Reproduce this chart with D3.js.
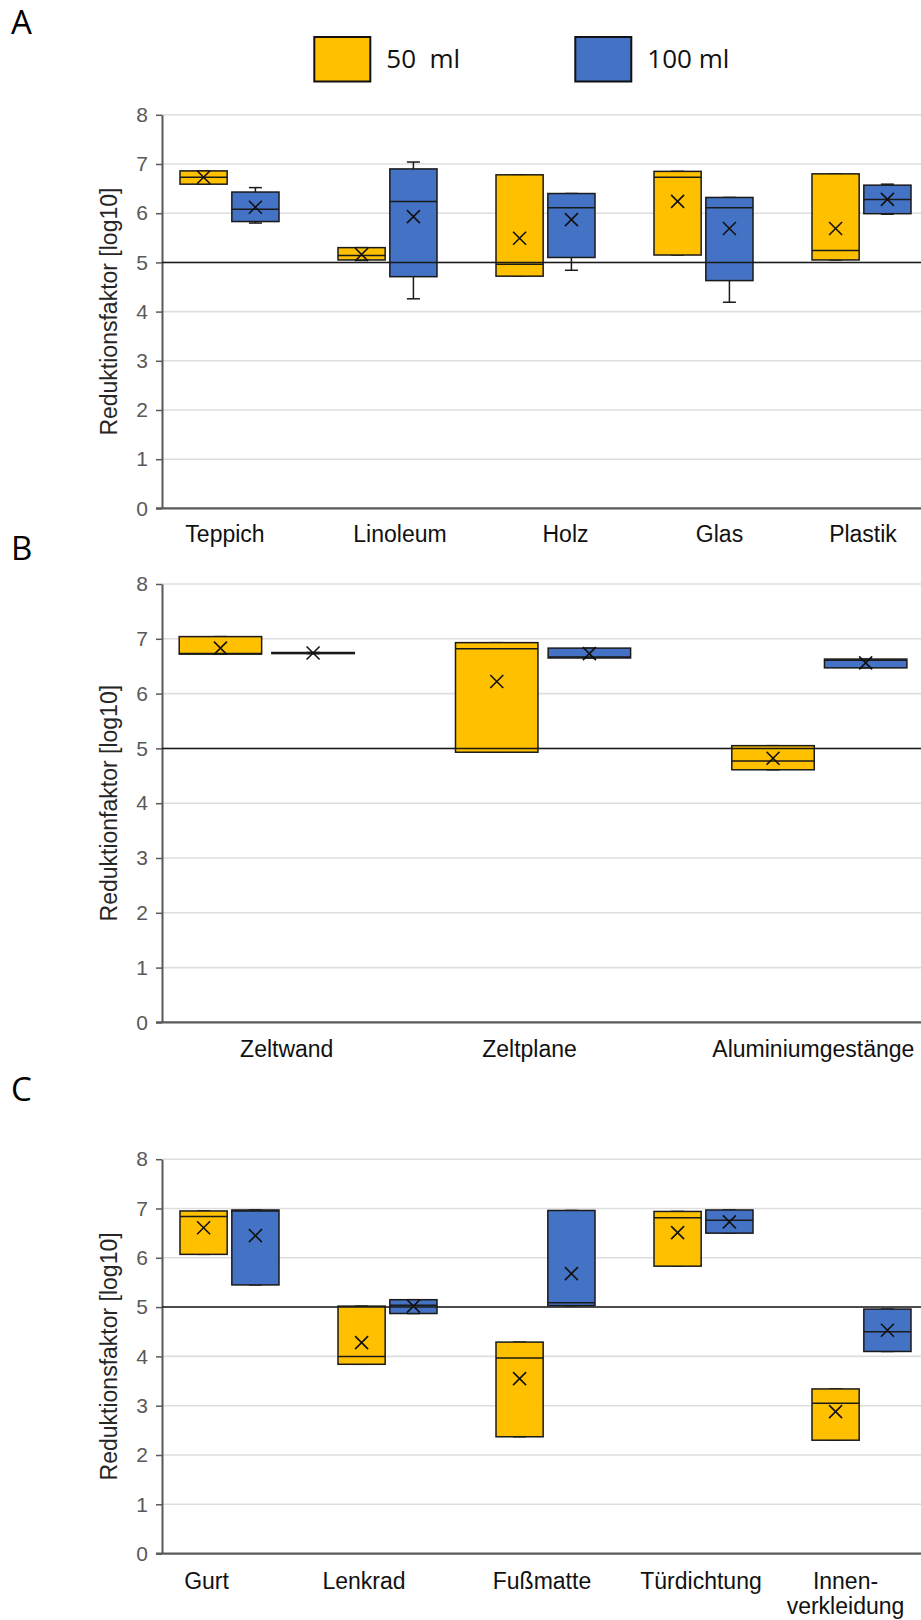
<!DOCTYPE html>
<html>
<head>
<meta charset="utf-8">
<script src="https://cdn.jsdelivr.net/npm/d3@7"></script>
<style>
  body { margin: 0; background: #fff; }
  svg { display: block; }
</style>
</head>
<body>
<svg width="921" height="1620"></svg>
<script>
// series
var seriesNames = ['50  ml', '100 ml'];
var yTicks = [0, 1, 2, 3, 4, 5, 6, 7, 8];

// each box: [min, q1, median, q3, max, mean]
var catsA = ['Teppich', 'Linoleum', 'Holz', 'Glas', 'Plastik'];
var boxesA50 = [
    [6.59, 6.59, 6.73, 6.86, 6.86, 6.73],
    [5.04, 5.05, 5.14, 5.30, 5.30, 5.16],
    [4.72, 4.72, 4.96, 6.78, 6.78, 5.49],
    [5.15, 5.15, 6.73, 6.85, 6.85, 6.24],
    [5.05, 5.05, 5.24, 6.80, 6.80, 5.69]
];
var boxesA100 = [
    [5.80, 5.83, 6.08, 6.43, 6.52, 6.12],
    [4.26, 4.71, 6.24, 6.90, 7.04, 5.93],
    [4.84, 5.10, 6.11, 6.40, 6.40, 5.87],
    [4.19, 4.63, 6.11, 6.32, 6.32, 5.69],
    [5.98, 5.99, 6.28, 6.57, 6.59, 6.28]
];

var catsB = ['Zeltwand', 'Zeltplane', 'Aluminiumgestänge'];
var boxesB50 = [
    [6.72, 6.72, 6.73, 7.04, 7.04, 6.83],
    [4.93, 4.93, 6.82, 6.93, 6.93, 6.22],
    [4.61, 4.61, 4.77, 5.05, 5.05, 4.82]
];
var boxesB100 = [
    [6.73, 6.73, 6.74, 6.75, 6.75, 6.74],
    [6.65, 6.65, 6.67, 6.83, 6.83, 6.73],
    [6.47, 6.47, 6.61, 6.63, 6.63, 6.56]
];

var catsC = ['Gurt', 'Lenkrad', 'Fußmatte', 'Türdichtung', 'Innen-\nverkleidung'];
var boxesC50 = [
    [6.07, 6.07, 6.84, 6.95, 6.95, 6.61],
    [3.84, 3.84, 4.00, 5.02, 5.02, 4.28],
    [2.37, 2.37, 3.97, 4.29, 4.29, 3.55],
    [5.83, 5.83, 6.81, 6.94, 6.94, 6.51],
    [2.30, 2.30, 3.05, 3.34, 3.34, 2.88]
];
var boxesC100 = [
    [5.45, 5.45, 6.95, 6.97, 6.97, 6.45],
    [4.87, 4.87, 5.04, 5.15, 5.15, 5.02],
    [5.03, 5.03, 5.09, 6.96, 6.96, 5.68],
    [6.50, 6.50, 6.76, 6.97, 6.97, 6.73],
    [4.10, 4.10, 4.50, 4.96, 4.96, 4.53]
];

var colors = ['#FFC000', '#4472C4'];
var axisX = 162;
var W = 921;

// layout of the three panels
var panels = [
    {letter: 'A', letterY: 34, cats: catsA, data: [boxesA50, boxesA100],
     y8: 114.8, y0: 508.4, xRange: [150.5, 940.5], inner: [29.5, 128.5], pad: 0.09,
     labelY: 541.7, shift: [-4.5, 12.5, 20, 16, 1.5], title: 'Reduktionsfaktor [log10]'},
    {letter: 'B', letterY: 560, cats: catsB, data: [boxesB50, boxesB100],
     y8: 584, y0: 1022.4, xRange: [128.6, 957.5], inner: [50.6, 225.7], pad: 0.11,
     labelY: 1056.7, shift: [20, -13.5, -6], title: 'Reduktionfaktor [log10]'},
    {letter: 'C', letterY: 1101, cats: catsC, data: [boxesC50, boxesC100],
     y8: 1159.2, y0: 1553.6, xRange: [150.5, 940.5], inner: [29.5, 128.5], pad: 0.09,
     labelY: 1589, shift: [-23, -23.5, -3.5, -2.5, -16], title: 'Reduktionsfaktor [log10]'}
];

var svg = d3.select('svg');

// legend
var leg = svg.append('g');
var legX = [314.3, 575.3];
seriesNames.forEach(function(s, i) {
    leg.append('rect')
        .attr('x', legX[i]).attr('y', 37)
        .attr('width', 56).attr('height', 44.5)
        .attr('fill', colors[i])
        .attr('stroke', '#111').attr('stroke-width', 2);
    leg.append('text')
        .attr('x', legX[i] + 72).attr('y', 67.7)
        .attr('font-family', 'Open Sans, sans-serif')
        .attr('font-size', 26)
        .attr('fill', '#111')
        .style('white-space', 'pre')
        .text(s);
});

panels.forEach(drawPanel);

function drawPanel(p) {
    var g = svg.append('g');

    var y = d3.scaleLinear().domain([0, 8]).range([p.y0, p.y8]);
    var x = d3.scaleBand().domain(p.cats).range(p.xRange);
    var xs = d3.scaleBand().domain(seriesNames).range(p.inner).paddingInner(p.pad);
    var bw = xs.bandwidth();

    // letter
    g.append('text')
        .attr('x', 11).attr('y', p.letterY)
        .attr('font-family', 'Open Sans, sans-serif')
        .attr('font-size', 33)
        .attr('fill', '#000')
        .text(p.letter);

    // gridlines
    g.selectAll('line.grid')
        .data(yTicks.filter(function(t) { return t > 0; }))
        .enter()
        .append('line')
        .attr('class', 'grid')
        .attr('x1', axisX).attr('x2', W)
        .attr('y1', function(d) { return y(d); })
        .attr('y2', function(d) { return y(d); })
        .attr('stroke', '#dedede')
        .attr('stroke-width', 1.6);

    // y axis
    var ax = g.append('g')
        .attr('transform', 'translate(' + axisX + ',0)')
        .call(d3.axisLeft(y).tickValues(yTicks).tickSize(6).tickSizeOuter(0).tickPadding(8).tickFormat(d3.format('d')));
    ax.select('.domain').attr('stroke', '#595959').attr('stroke-width', 2);
    ax.selectAll('.tick line').attr('stroke', '#595959').attr('stroke-width', 1.5);
    ax.selectAll('.tick text')
        .attr('font-family', 'Liberation Sans, Arial, sans-serif')
        .attr('font-size', 21)
        .attr('fill', '#595959');

    // x axis line
    g.append('line')
        .attr('x1', axisX - 6).attr('x2', W)
        .attr('y1', y(0)).attr('y2', y(0))
        .attr('stroke', '#595959').attr('stroke-width', 2.2);

    // y title
    g.append('text')
        .attr('transform', 'translate(108.5,' + ((p.y0 + p.y8) / 2) + ') rotate(-90)')
        .attr('text-anchor', 'middle')
        .attr('dy', '0.35em')
        .attr('font-family', 'Liberation Sans, Arial, sans-serif')
        .attr('font-size', 23)
        .attr('fill', '#262626')
        .text(p.title);

    // boxes
    p.data.forEach(function(series, si) {
        var sg = g.append('g');
        var items = series.map(function(v, i) {
            return {cat: p.cats[i], v: v, x0: x(p.cats[i]) + xs(seriesNames[si])};
        });

        // whiskers
        items.forEach(function(d) {
            var cx = d.x0 + bw / 2;
            var lines = [];
            if (d.v[4] > d.v[3]) lines.push([cx, y(d.v[3]), cx, y(d.v[4])]);
            if (d.v[0] < d.v[1]) lines.push([cx, y(d.v[1]), cx, y(d.v[0])]);
            lines.push([cx - 6.5, y(d.v[4]), cx + 6.5, y(d.v[4])]);
            lines.push([cx - 6.5, y(d.v[0]), cx + 6.5, y(d.v[0])]);
            lines.forEach(function(l) {
                sg.append('line')
                    .attr('x1', l[0]).attr('y1', l[1]).attr('x2', l[2]).attr('y2', l[3])
                    .attr('stroke', '#1a1a1a').attr('stroke-width', 1.5);
            });
        });

        sg.selectAll('rect')
            .data(items)
            .enter()
            .append('rect')
            .attr('x', function(d) { return d.x0; })
            .attr('y', function(d) { return y(d.v[3]); })
            .attr('width', bw)
            .attr('height', function(d) { return y(d.v[1]) - y(d.v[3]); })
            .attr('fill', colors[si])
            .attr('stroke', '#1a1a1a')
            .attr('stroke-width', 1.5);

        // median
        sg.selectAll('line.med')
            .data(items)
            .enter()
            .append('line')
            .attr('class', 'med')
            .attr('x1', function(d) { return d.x0; })
            .attr('x2', function(d) { return d.x0 + bw; })
            .attr('y1', function(d) { return y(d.v[2]); })
            .attr('y2', function(d) { return y(d.v[2]); })
            .attr('stroke', '#1a1a1a').attr('stroke-width', 1.5);

        // mean marker
        sg.selectAll('path.mean')
            .data(items)
            .enter()
            .append('path')
            .attr('class', 'mean')
            .attr('d', function(d) {
                var cx = d.x0 + bw / 2, cy = y(d.v[5]), r = 6.5;
                var pth = d3.path();
                pth.moveTo(cx - r, cy - r); pth.lineTo(cx + r, cy + r);
                pth.moveTo(cx - r, cy + r); pth.lineTo(cx + r, cy - r);
                return pth.toString();
            })
            .attr('fill', 'none')
            .attr('stroke', '#111')
            .attr('stroke-width', 1.6);
    });

    // threshold line at 5
    g.append('line')
        .attr('x1', axisX).attr('x2', W)
        .attr('y1', y(5)).attr('y2', y(5))
        .attr('stroke', '#1a1a1a').attr('stroke-width', 1.5);

    // category labels
    var labels = g.selectAll('text.cat')
        .data(p.cats)
        .enter()
        .append('text')
        .attr('class', 'cat')
        .attr('text-anchor', 'middle')
        .attr('font-family', 'Liberation Sans, Arial, sans-serif')
        .attr('font-size', 23)
        .attr('fill', '#111');
    labels.each(function(c, i) {
        var cx = x(c) + x.bandwidth() / 2 + p.shift[i];
        var parts = c.split('\n');
        d3.select(this).selectAll('tspan')
            .data(parts)
            .enter()
            .append('tspan')
            .attr('x', cx)
            .attr('y', function(t, j) { return p.labelY + j * 25; })
            .text(function(t) { return t; });
    });
}
</script>
</body>
</html>
